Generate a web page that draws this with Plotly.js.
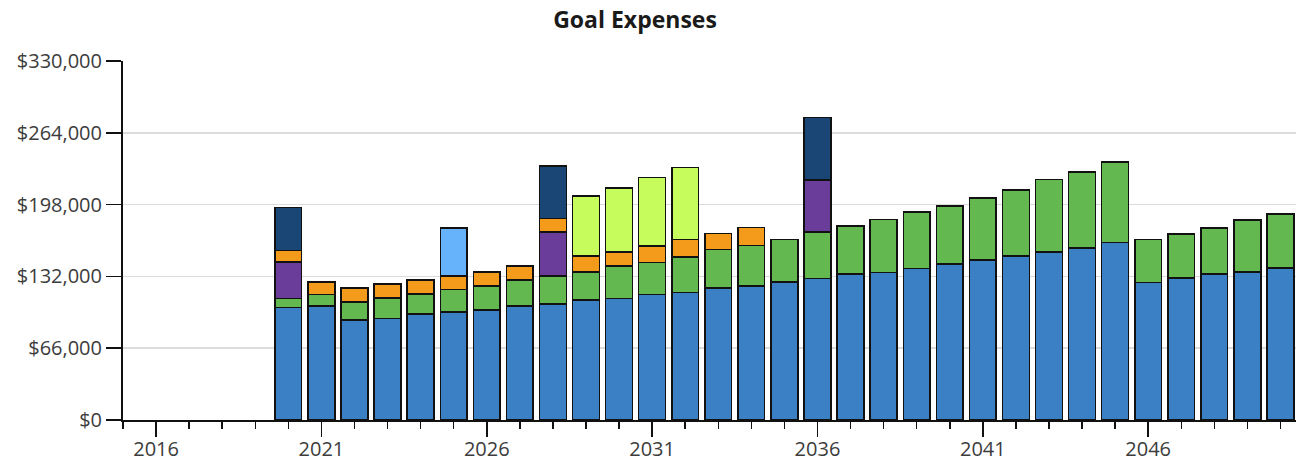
<!DOCTYPE html>
<html>
<head>
<meta charset="utf-8">
<script src="https://cdn.plot.ly/plotly-3.0.1.min.js"></script>
<style>html,body{margin:0;padding:0;background:#fff;}#chart{width:1300px;height:462px;}</style>
</head>
<body>
<div id="chart"></div>
<script>
const years = [2020,2021,2022,2023,2024,2025,2026,2027,2028,2029,2030,2031,2032,2033,2034,2035,2036,2037,2038,2039,2040,2041,2042,2043,2044,2045,2046,2047,2048,2049,2050];

const livingExpenses = [103200,104700,91900,93400,97400,99200,101000,104700,106500,110200,111800,115400,117300,121500,123100,127000,130100,134100,135700,139300,143300,147000,150600,154300,158300,163200,126500,130700,134100,136200,139900];
const healthcare = [8600,10700,16500,18900,18300,20800,22100,23900,25800,25700,29600,29400,32700,35300,37100,39000,42600,44100,48600,51700,53300,57200,60700,66800,69800,74100,39500,40100,42500,47500,49300];
const vehicle = [33600,null,null,null,null,null,null,null,40400,null,null,null,null,null,null,null,47700,null,null,null,null,null,null,null,null,null,null,null,null,null,null];
const travel = [10500,11400,12800,12600,12900,12300,13100,12800,12600,14700,13200,15000,16000,14700,16800,null,null,null,null,null,null,null,null,null,null,null,null,null,null,null,null];
const homeImprovement = [null,null,null,null,null,44300,null,null,null,null,null,null,null,null,null,null,null,null,null,null,null,null,null,null,null,null,null,null,null,null,null];
const education = [null,null,null,null,null,null,null,null,null,55400,58800,63100,66100,null,null,null,null,null,null,null,null,null,null,null,null,null,null,null,null,null,null];
const newCar = [39500,null,null,null,null,null,null,null,48300,null,null,null,null,null,null,null,57600,null,null,null,null,null,null,null,null,null,null,null,null,null,null];

const seriesNames = ['Living Expenses','Healthcare','Vehicle','Travel','Home Improvement','Education','New Car'];
const seriesData = [livingExpenses, healthcare, vehicle, travel, homeImprovement, education, newCar];
const seriesColors = ['#3b7fc4','#63b84f','#6a3d9a','#f59b1c','#66b2fb','#c6fc5c','#1a4676'];

const yTicks = [0,66000,132000,198000,264000,330000];
const yTickText = yTicks.map(v => '$' + v.toLocaleString('en-US'));

const traces = seriesData.map((vals, i) => ({
  type: 'bar',
  name: seriesNames[i],
  x: years,
  y: vals,
  width: 0.81,
  marker: {color: seriesColors[i], line: {color: '#111', width: 1.5}},
  hoverinfo: 'x+y+name'
}));

const fontFam = '"Open Sans", "Noto Sans", "DejaVu Sans", sans-serif';

const layout = {
  width: 1300, height: 462,
  barmode: 'stack',
  showlegend: false,
  paper_bgcolor: '#fff', plot_bgcolor: '#fff',
  margin: {l: 123, r: 4, t: 61, b: 42, pad: 0},
  font: {family: fontFam, size: 20, color: '#3c3c3c'},
  title: {
    text: '<b>Goal Expenses</b>',
    font: {family: fontFam, size: 23, color: '#1a1a1a'},
    x: 0.4885, xanchor: 'center', xref: 'container',
    y: 0.9567, yanchor: 'middle', yref: 'container'
  },
  xaxis: {
    range: [2015, 2050.47],
    tickmode: 'linear', tick0: 2016, dtick: 5,
    ticks: 'outside', ticklen: 15, tickwidth: 1.5, tickcolor: '#111',
    ticklabelstandoff: -5,
    showline: true, linecolor: '#111', linewidth: 2,
    showgrid: false, zeroline: false,
    tickfont: {size: 20, color: '#3c3c3c'},
    minor: {dtick: 1, tick0: 2015, ticks: 'outside', ticklen: 7, tickwidth: 1.5, tickcolor: '#111', showgrid: false}
  },
  yaxis: {
    range: [0, 330000],
    tickmode: 'array', tickvals: yTicks, ticktext: yTickText,
    ticks: 'outside', ticklen: 15, tickwidth: 1.5, tickcolor: '#111',
    showline: true, linecolor: '#111', linewidth: 2,
    showgrid: true, gridcolor: '#dcdcdc', gridwidth: 1.5,
    zeroline: false,
    tickfont: {size: 20, color: '#3c3c3c'}
  }
};

Plotly.newPlot('chart', traces, layout, {displayModeBar: false, staticPlot: true});
</script>
</body>
</html>
